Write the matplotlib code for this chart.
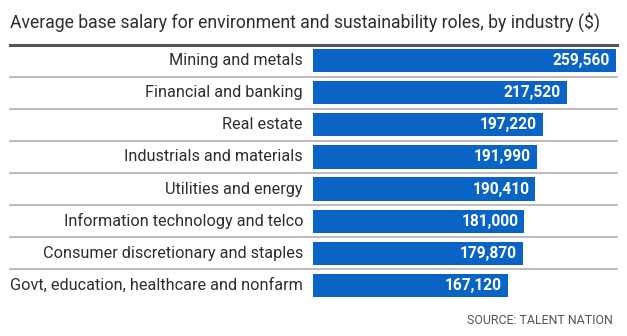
#!/usr/bin/env python3
"""
Horizontal bar chart: average base salary for sustainability roles by industry.
"""
import matplotlib.pyplot as plt
from matplotlib.transforms import offset_copy

industries = [
    "Mining and metals",
    "Financial and banking",
    "Real estate",
    "Industrials and materials",
    "Utilities and energy",
    "Information technology and telco",
    "Consumer discretionary and staples",
    "Govt, education, healthcare and nonfarm",
]
salaries = [259560, 217520, 197220, 191990, 190410, 181000, 179870, 167120]

title = "Average base salary for environment and sustainability roles, by industry ($)"
source = "SOURCE: TALENT NATION"

BAR_COLOR = "#0a64c6"
TEXT_COLOR = "#2e2e2e"

plt.rcParams["font.family"] = ["Roboto", "DejaVu Sans"]

W, H = 627, 336
fig = plt.figure(figsize=(W / 100, H / 100), dpi=100)
ax = fig.add_axes([313 / W, 1 - 301.5 / H, 304 / W, 257 / H])

y = list(range(len(industries)))
ax.barh(y, salaries, height=0.72, color=BAR_COLOR)
ax.set_xlim(0, 260400)
ax.set_ylim(len(industries) - 0.5, -0.5)
ax.axis("off")

# separators between rows, running under the labels too
x0 = (10 - 313) / 304
for i in range(len(industries) - 1):
    ax.axhline(i + 0.5, xmin=x0, xmax=1, color="#b0b0b0", lw=1.2, clip_on=False)
ax.axhline(-0.5, xmin=x0, xmax=1, color="#555555", lw=2.2, clip_on=False)

lab_tr = offset_copy(ax.transData, fig=fig, x=-10, y=0, units="dots")
val_tr = offset_copy(ax.transData, fig=fig, x=-6, y=0, units="dots")
for yi, name, val in zip(y, industries, salaries):
    ax.text(0, yi, name, transform=lab_tr, ha="right", va="center",
            fontsize=11.7, color=TEXT_COLOR)
    ax.text(val, yi, f"{val:,}", transform=val_tr, ha="right", va="center",
            fontsize=11.2, color="white", fontweight="bold")

fig.text(10 / W, 1 - 22 / H, title, ha="left", va="center",
         fontsize=12.7, color=TEXT_COLOR)
fig.text(613 / W, 1 - 320 / H, source, ha="right", va="center",
         fontsize=8.9, color="#555555")

fig.savefig("out.png", dpi=100)
